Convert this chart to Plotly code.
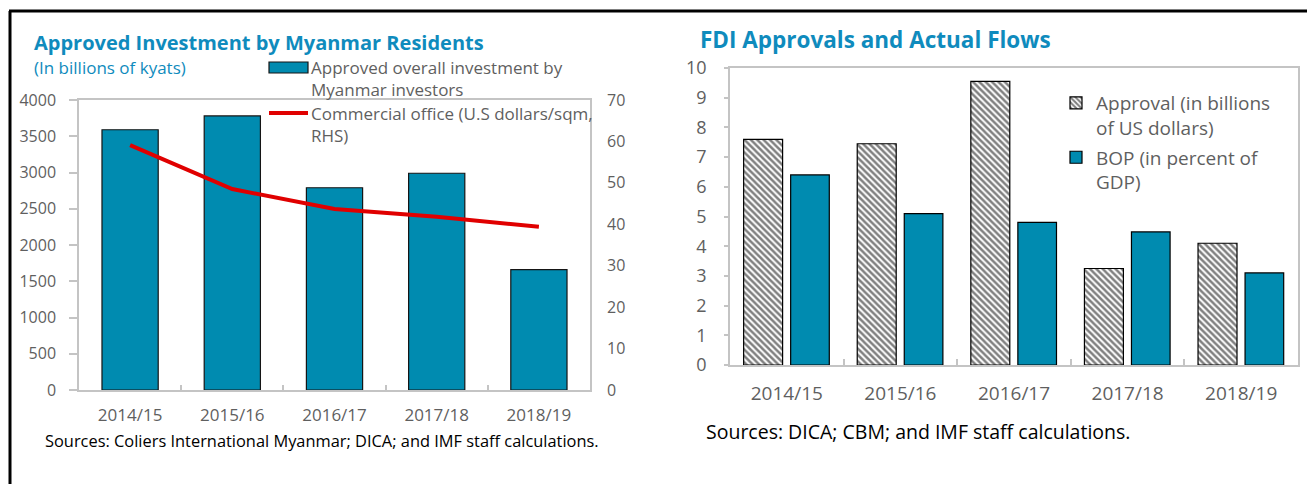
import plotly.graph_objects as go

# ---------------- data ----------------
years = ["2014/15", "2015/16", "2016/17", "2017/18", "2018/19"]
invest_myanmar = [3590, 3780, 2790, 2990, 1660]          # billions of kyats (LHS)
office_rent = [59.1, 48.5, 43.7, 41.8, 39.4]             # US$/sqm (RHS)
fdi_approval = [7.6, 7.45, 9.55, 3.25, 4.1]              # billions of US dollars
fdi_bop = [6.4, 5.1, 4.8, 4.48, 3.1]                     # percent of GDP

left_title = "Approved Investment by Myanmar Residents"
left_subtitle = "(In billions of kyats)"
left_source = "Sources: Coliers International Myanmar; DICA; and IMF staff calculations."
right_title = "FDI Approvals and Actual Flows"
right_source = "Sources: DICA; CBM; and IMF staff calculations."
leg_invest = ["Approved overall investment by", "Myanmar investors"]
leg_office = ["Commercial office (U.S dollars/sqm,", "RHS)"]
leg_approval = "Approval (in billions<br>of US dollars)"
leg_bop = "BOP (in percent of<br>GDP)"

# ---------------- styling ----------------
W, H = 1307, 484
FONT = "Open Sans"
TEAL = "#008BB0"
TITLE_C = "#0F8BBD"
GREY_TXT = "#5F5F5F"
AXIS_C = "#C4C4C4"
RED = "#E00000"


def px(x):
    return x / W


def py(y):
    return 1 - y / H


fig = go.Figure()

# left chart
fig.add_trace(go.Bar(
    x=years, y=invest_myanmar, xaxis="x", yaxis="y", width=0.55,
    marker=dict(color=TEAL, line=dict(color="#151515", width=1.2)),
    showlegend=False, name=" ".join(leg_invest)))
fig.add_trace(go.Scatter(
    x=years, y=office_rent, xaxis="x", yaxis="y2", mode="lines",
    line=dict(color=RED, width=4), showlegend=False, name=" ".join(leg_office)))

# right chart
fig.add_trace(go.Bar(
    x=years, y=fdi_approval, xaxis="x3", yaxis="y3", width=0.343, offset=-0.38,
    marker=dict(color="white", line=dict(color="#000", width=1.2),
                pattern=dict(shape="\\", fgcolor="#000", bgcolor="white", size=4.5, solidity=0.55)),
    name=leg_approval, legend="legend2", legendgroup="a"))
fig.add_trace(go.Bar(
    x=years, y=fdi_bop, xaxis="x3", yaxis="y3", width=0.34, offset=0.034,
    marker=dict(color=TEAL, line=dict(color="#000", width=1.2)),
    name=leg_bop, legend="legend2", legendgroup="b"))

axis_common = dict(showgrid=False, zeroline=False, showline=True, linecolor=AXIS_C, linewidth=1.5)

fig.update_layout(
    width=W, height=H, margin=dict(l=0, r=0, t=0, b=0, autoexpand=False),
    paper_bgcolor="white", plot_bgcolor="white",
    font=dict(family=FONT, color=GREY_TXT),
    barmode="group",
    xaxis=dict(domain=[px(79), px(590)], anchor="y", type="category", mirror=True,
               ticks="inside", tickson="boundaries", ticklen=5, tickcolor=AXIS_C, tickwidth=1.5,
               tickfont=dict(size=17, color=GREY_TXT), ticklabelstandoff=9, **axis_common),
    yaxis=dict(domain=[py(390), py(100)], anchor="x", range=[0, 4000], dtick=500, mirror=True,
               ticks="outside", ticklen=8, tickcolor=AXIS_C, tickwidth=1.5,
               tickfont=dict(size=16, color=GREY_TXT), ticklabelstandoff=10, **axis_common),
    yaxis2=dict(overlaying="y", anchor="x", side="right", range=[0, 70], dtick=10,
                showgrid=False, zeroline=False, showline=False, ticks="",
                tickfont=dict(size=16, color=GREY_TXT), ticklabelstandoff=16),
    xaxis3=dict(domain=[px(730), px(1298)], anchor="y3", type="category", mirror=True,
                ticks="inside", tickson="boundaries", ticklen=6, tickcolor=AXIS_C, tickwidth=1.5,
                tickfont=dict(size=19, color=GREY_TXT), ticklabelstandoff=10, **axis_common),
    yaxis3=dict(domain=[py(365), py(68)], anchor="x3", range=[0, 10], dtick=1, mirror=True,
                ticks="outside", ticklen=4, tickcolor=AXIS_C, tickwidth=1.5,
                tickfont=dict(size=18, color=GREY_TXT), ticklabelstandoff=14, **axis_common),
    legend2=dict(x=px(1056), y=py(84), xanchor="left", yanchor="top", valign="top",
                 bgcolor="rgba(0,0,0,0)", font=dict(size=19, color=GREY_TXT),
                 traceorder="grouped", tracegroupgap=2, itemwidth=30),
)

# frame lines
shapes = [
    dict(type="line", xref="paper", yref="paper", x0=px(9), x1=1, y0=py(11), y1=py(11),
         line=dict(color="black", width=3)),
    dict(type="line", xref="paper", yref="paper", x0=px(10), x1=px(10), y0=py(11), y1=0,
         line=dict(color="black", width=3)),
    # left legend symbols
    dict(type="rect", xref="paper", yref="paper", x0=px(269), x1=px(308), y0=py(73), y1=py(62),
         fillcolor=TEAL, line=dict(color="#151515", width=1.2)),
    dict(type="line", xref="paper", yref="paper", x0=px(269), x1=px(308), y0=py(113), y1=py(113),
         line=dict(color=RED, width=4)),
]
fig.update_layout(shapes=shapes)

ann = []


def text(x, y, s, size, color, bold=False):
    ann.append(dict(xref="paper", yref="paper", x=px(x), y=py(y), xanchor="left", yanchor="middle",
                    text=f"<b>{s}</b>" if bold else s, showarrow=False,
                    font=dict(family=FONT, size=size, color=color)))


text(32, 43, left_title, 20, TITLE_C, bold=True)
text(32, 68, left_subtitle, 17, TITLE_C)
text(309, 68, leg_invest[0], 17, GREY_TXT)
text(309, 90, leg_invest[1], 17, GREY_TXT)
text(309, 113, leg_office[0], 17, GREY_TXT)
text(309, 136, leg_office[1], 17, GREY_TXT)
text(43, 440, left_source, 16.4, "black")
text(698, 39, right_title, 22.5, TITLE_C, bold=True)
text(704, 431, right_source, 19.5, "black")
fig.update_layout(annotations=ann)

# remove the default page margin so the figure sits at the window's top-left corner
page_fix = "document.body.style.margin = '0';"

fig.write_html("out.html", post_script=page_fix, config={"displayModeBar": False})
